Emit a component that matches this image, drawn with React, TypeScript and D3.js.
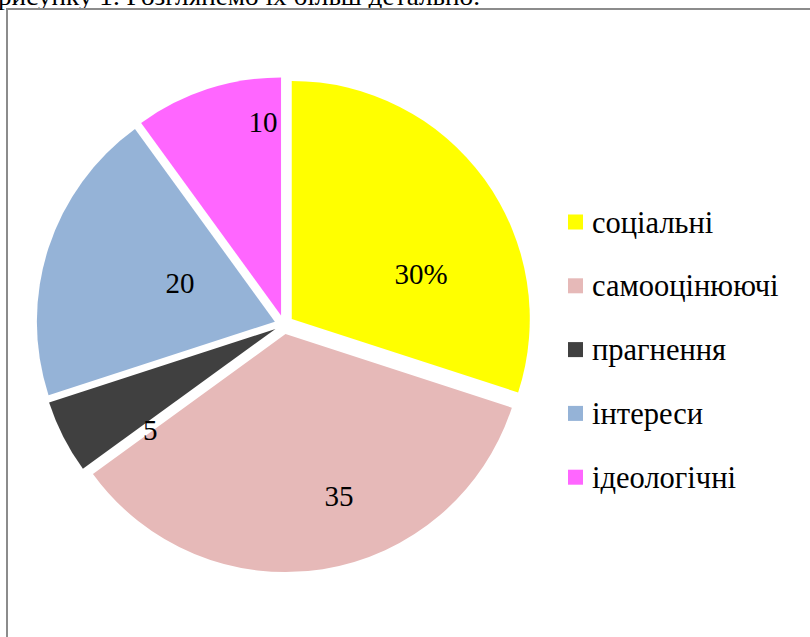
import React from "react";
import * as d3 from "d3";

const categories = ["соціальні", "самооцінюючі", "прагнення", "інтереси", "ідеологічні"];
const values = [30, 35, 5, 20, 10];
const valueLabels = ["30%", "35", "5", "20", "10"];
const colors = ["#FFFF00", "#E6B9B8", "#404040", "#95B3D7", "#FF66FF"];
// label placement relative to each exploded slice: [angle in degrees, distance as fraction of radius]
const labelPlacement: [number, number][] = [
  [70.8, 0.575],
  [161.7, 0.716],
  [231.1, 0.676],
  [292.1, 0.43],
  [354.7, 0.815],
];
const captionText = "рисунку 1. Розглянемо їх більш детально.";

const W = 810;
const H = 637;
const FONT =
  "'Times New Roman', 'Liberation Serif', Tinos, 'Nimbus Roman', FreeSerif, 'Noto Serif', 'DejaVu Serif', Times, serif";

export default function App() {
  const cx = 284;
  const cy = 324.6;
  const r = 238;
  const explode = 9.6;

  const pie = d3.pie<number>().sort(null).value((d) => d).startAngle(0).endAngle(2 * Math.PI);
  const arcs = pie(values);
  const arcGen = d3.arc<d3.PieArcDatum<number>>().innerRadius(0).outerRadius(r);

  const legendX = 568;
  const legendY0 = 222;
  const legendStep = 63.8;

  const textStyle = { fontFamily: FONT };

  return (
    <div style={{ position: "absolute", left: 0, top: 0 }}>
      <svg width={W} height={H} style={{ display: "block", fontFamily: FONT }}>
        <rect x={0} y={0} width={W} height={H} fill="#ffffff" />
        <text x={-2} y={5} style={textStyle} fontSize={25} fill="#000" textLength={482} lengthAdjust="spacingAndGlyphs">
          {captionText}
        </text>
        <rect x={7} y={9} width={W + 10} height={H + 10} fill="#ffffff" stroke="#8c8c8c" strokeWidth={2} />
        {arcs.map((a, i) => {
          const mid = (a.startAngle + a.endAngle) / 2;
          const ox = cx + explode * Math.sin(mid);
          const oy = cy - explode * Math.cos(mid);
          const [ang, frac] = labelPlacement[i];
          const rad = (ang * Math.PI) / 180;
          const lx = ox + frac * r * Math.sin(rad);
          const ly = oy - frac * r * Math.cos(rad);
          return (
            <g key={i}>
              <path d={arcGen(a) || ""} transform={`translate(${ox},${oy})`} fill={colors[i]} />
              <text
                x={lx}
                y={ly}
                textAnchor="middle"
                dy="0.35em"
                style={textStyle}
                fontSize={29}
                fill="#000"
              >
                {valueLabels[i]}
              </text>
            </g>
          );
        })}
        {categories.map((c, i) => {
          const y = legendY0 + i * legendStep;
          return (
            <g key={c}>
              <rect x={legendX} y={y - 7.5} width={15} height={15} fill={colors[i]} />
              <text x={legendX + 24} y={y} dy="0.35em" style={textStyle} fontSize={30.5} fill="#000">
                {c}
              </text>
            </g>
          );
        })}
      </svg>
    </div>
  );
}
